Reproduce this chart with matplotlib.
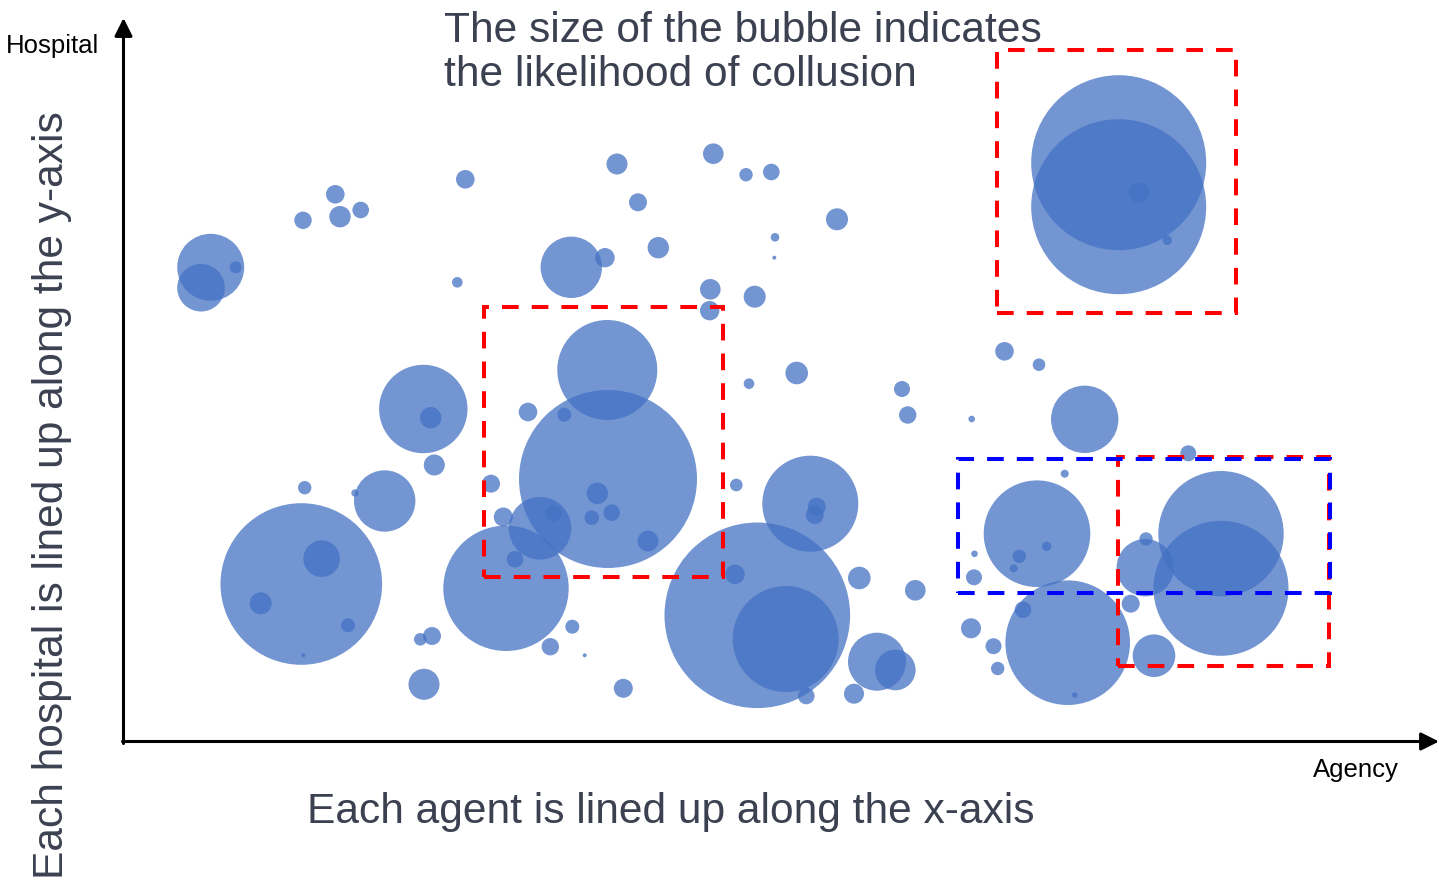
import matplotlib
matplotlib.use("Agg")
import matplotlib.pyplot as plt
from matplotlib.patches import Circle, Rectangle

plt.rcParams['font.family'] = ['Liberation Sans', 'DejaVu Sans']
plt.rcParams['lines.scale_dashes'] = False

# bubble centres (agency along x, hospital along y) and bubble radius = collusion likelihood
agency = [87.7, 78, 112.7, 180, 212.3, 217, 237.7, 342.3, 334.3, 448.3,
          482, 494, 300.3, 307.7, 405, 441.3, 484.3, 485, 178.3, 198.7,
          137.7, 225, 180.3, 181.7, 232, 261.7, 311.3, 368, 380.3, 417,
          392, 383, 474.3, 468.7, 488.7, 430.7, 309, 297.3, 301, 449.3,
          427.3, 461.7, 500.3, 525, 590.3, 623, 648.3, 515, 714, 535.3,
          652, 651.3, 587.3, 586.7, 631.7, 673.7, 626, 779, 784.7, 848.7,
          881.5, 613.3, 687.3, 693.7, 691.7, 634.3, 662.7, 612, 736.3, 792.3,
          754, 772.3, 731, 683.3, 851.5, 851, 848, 870.5, 874.7, 916,
          961.7, 1065.3, 941.7, 914, 923.7, 896.3, 890.7, 944.7, 900, 951.7,
          1007.7, 1022.3, 1023, 1031, 1098, 1098, 995.7, 995.7, 1015.7, 1044.3]
hospital = [474.7, 454.3, 474.7, 521.7, 547.7, 525.3, 532, 562.7, 459.7, 474.7,
            484.3, 578, 333, 324.3, 330, 327.3, 372, 263, 158, 183.3,
            138.7, 116.7, 86.7, 254.3, 249, 241, 277, 258.3, 225, 213.7,
            182.7, 153.7, 248.7, 224.3, 229.3, 228.7, 106, 102.7, 57.7, 115.3,
            95.3, 86.7, 53.7, 201, 588.3, 567.3, 570, 539.7, 522.7, 494.3,
            504.7, 484.3, 452.7, 431.3, 445.3, 369, 358.3, 353, 327, 323,
            390.7, 257, 238.3, 235.3, 227, 126.7, 103, 167.7, 164, 151.7,
            80.3, 72, 48.3, 46, 188.2, 164.7, 113.7, 95.8, 73.5, 377.3,
            322.7, 288.7, 268.3, 208.3, 195.7, 185.7, 173.7, 99.3, 132.3, 47,
            138.3, 174.3, 203, 86.3, 208.3, 153.7, 579.3, 535.3, 549.7, 501.7]
likelihood = [33.5, 23.8, 6, 8.7, 9.3, 10.7, 8.3, 9.3, 5.3, 30.7,
              9.7, 10.5, 44.2, 10.7, 9.3, 7, 50, 89, 80.8, 18.3,
              11, 7, 2, 6.7, 3.7, 30.7, 10.5, 9, 9.5, 31.3,
              8.3, 62.7, 10.7, 7.3, 8.3, 8.3, 9, 6.3, 15.5, 7,
              8.7, 2, 9.5, 10.5, 10.3, 6.7, 8.3, 9, 11, 10.7,
              4.3, 2, 10.3, 9.7, 11, 11.3, 5.3, 8, 8.7, 3.3,
              9.3, 6.3, 48, 9, 9, 92.8, 53, 9.7, 11.3, 10.3,
              29, 20.3, 10, 8.3, 3.3, 8, 10, 8, 6.7, 6.3,
              33.7, 8, 4, 53.3, 4.7, 6.7, 4, 62.3, 8.3, 2.7,
              9, 28.7, 6.7, 21.3, 62.7, 67.5, 87.5, 87.5, 10, 4.7]

# highlighted groups: (agency from, agency to, hospital from, hospital to)
red_boxes = [(873.5, 1113, 429, 692),
             (361, 600, 165, 435),
             (994.5, 1206, 76, 285)]
blue_boxes = [(834.5, 1206.5, 149, 283.5)]

text_color = '#3B4150'

fig = plt.figure(figsize=(14.39, 8.81), dpi=100)
ax = fig.add_axes([0, 0, 1, 1])
ax.set_xlim(-123, 1316)
ax.set_ylim(-139, 742)
ax.axis('off')

for x, y, r in zip(agency, hospital, likelihood):
    ax.add_patch(Circle((x, y), r, facecolor='#4472C4', edgecolor='none', alpha=0.75))

for boxes, col in [(red_boxes, '#FF0000'), (blue_boxes, '#0000FF')]:
    for x0, x1, y0, y1 in boxes:
        ax.add_patch(Rectangle((x0, y0), x1 - x0, y1 - y0, fill=False, edgecolor=col,
                               lw=2.9, linestyle=(0, (12, 9.4)), joinstyle='miter', zorder=3))

# axis arrows
arrow = dict(arrowstyle='-|>,head_length=0.4,head_width=0.2', mutation_scale=27,
             lw=2.2, color='black', shrinkA=0, shrinkB=0)
ax.annotate('', xy=(0.5, 724), xytext=(0.5, -1.5), arrowprops=arrow)
ax.annotate('', xy=(1316, 0.5), xytext=(-0.5, 0.5), arrowprops=arrow)

ax.text(-117, 689, 'Hospital', fontsize=18.5, color='black', ha='left', va='baseline')
ax.text(1190, -35, 'Agency', fontsize=18.5, color='black', ha='left', va='baseline')

ax.text(321, 700.5, 'The size of the bubble indicates', fontsize=30.6,
        color=text_color, ha='left', va='baseline')
ax.text(321, 655.5, 'the likelihood of collusion', fontsize=30.6,
        color=text_color, ha='left', va='baseline')
ax.text(184, -81.5, 'Each agent is lined up along the x-axis', fontsize=30.6,
        color=text_color, ha='left', va='baseline')
ax.text(-60, 246.5, 'Each hospital is lined up along the y-axis', fontsize=30.6,
        color=text_color, rotation=90, rotation_mode='anchor', ha='center', va='baseline')

fig.savefig('out.png', dpi=100)
